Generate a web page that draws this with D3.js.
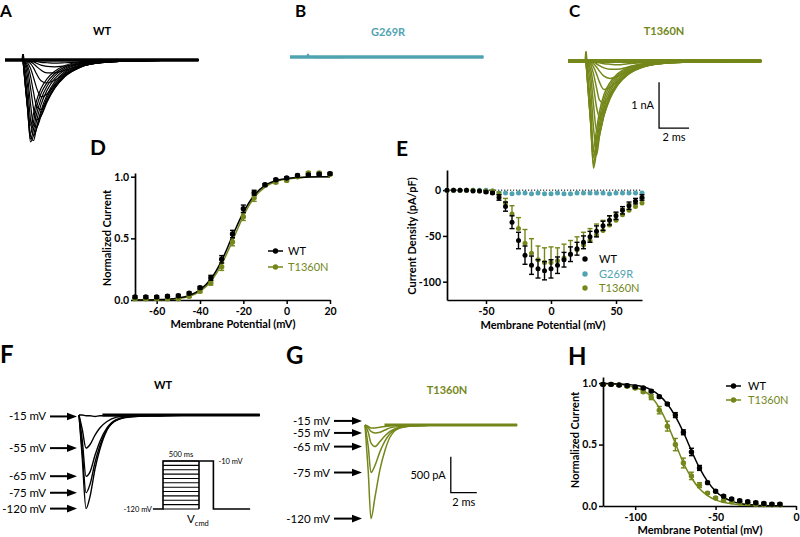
<!DOCTYPE html>
<html><head><meta charset="utf-8">
<script src="https://cdn.jsdelivr.net/npm/d3@7"></script>
<style>
body{margin:0;background:#fff;}
svg{display:block;}
</style></head><body>
<script>
// ================= DATA =================
const COL_WT = '#000000', COL_T = '#74871a', COL_G = '#50a3b0';
const FONT = "Lato, 'Open Sans', 'DejaVu Sans', sans-serif";

// ---- Panels A-C : current traces (nA) sampled on a time grid (ms after step) ----
const tGridAC = [0, 0.3, 0.5, 0.7, 0.9, 1.2, 1.6, 2.1, 2.8, 3.8, 5.2, 7.5, 11.7];
const tracesA_WT = [
 [0,0,-0.01,-0.02,-0.03,-0.05,-0.06,-0.07,-0.06,-0.04,-0.02,-0.01,0],
 [0,-0.01,-0.02,-0.04,-0.07,-0.11,-0.14,-0.15,-0.13,-0.08,-0.04,-0.01,0],
 [0,-0.02,-0.04,-0.08,-0.14,-0.22,-0.28,-0.28,-0.22,-0.12,-0.05,-0.02,0],
 [0,-0.03,-0.08,-0.17,-0.3,-0.45,-0.5,-0.44,-0.3,-0.15,-0.06,-0.02,0],
 [0,-0.06,-0.18,-0.38,-0.6,-0.8,-0.74,-0.55,-0.34,-0.16,-0.06,-0.02,0],
 [0,-0.12,-0.35,-0.7,-1.0,-1.08,-0.88,-0.62,-0.36,-0.16,-0.06,-0.02,0],
 [0,-0.2,-0.6,-1.05,-1.3,-1.22,-0.92,-0.62,-0.34,-0.15,-0.06,-0.02,0],
 [0,-0.35,-0.95,-1.42,-1.46,-1.22,-0.88,-0.58,-0.31,-0.13,-0.05,-0.02,0],
 [0,-0.55,-1.3,-1.65,-1.5,-1.16,-0.82,-0.53,-0.28,-0.12,-0.05,-0.02,0],
 [0,-0.8,-1.65,-1.75,-1.47,-1.1,-0.76,-0.48,-0.25,-0.11,-0.04,-0.01,0],
 [0,-1.0,-1.78,-1.64,-1.33,-0.97,-0.66,-0.41,-0.21,-0.09,-0.04,-0.01,0],
 [0,-1.05,-1.72,-1.5,-1.18,-0.85,-0.57,-0.35,-0.18,-0.08,-0.03,-0.01,0],
 [0,-1.05,-1.6,-1.34,-1.03,-0.73,-0.49,-0.3,-0.15,-0.06,-0.03,-0.01,0],
 [0,-1.0,-1.42,-1.17,-0.89,-0.62,-0.41,-0.25,-0.12,-0.05,-0.02,0,0]
];
const tracesC_T = [
 [0,0,-0.01,-0.02,-0.04,-0.06,-0.07,-0.08,-0.06,-0.04,-0.02,-0.01,0],
 [0,-0.01,-0.03,-0.06,-0.1,-0.15,-0.18,-0.18,-0.13,-0.07,-0.03,-0.01,0],
 [0,-0.02,-0.06,-0.13,-0.22,-0.33,-0.38,-0.33,-0.23,-0.12,-0.05,-0.02,0],
 [0,-0.04,-0.13,-0.28,-0.46,-0.62,-0.58,-0.44,-0.27,-0.13,-0.05,-0.02,0],
 [0,-0.08,-0.28,-0.58,-0.85,-0.92,-0.72,-0.5,-0.29,-0.13,-0.05,-0.02,0],
 [0,-0.16,-0.55,-1.0,-1.22,-1.08,-0.79,-0.52,-0.29,-0.12,-0.05,-0.02,0],
 [0,-0.3,-0.95,-1.5,-1.52,-1.18,-0.82,-0.53,-0.28,-0.12,-0.05,-0.02,0],
 [0,-0.55,-1.45,-1.9,-1.62,-1.18,-0.8,-0.5,-0.26,-0.11,-0.04,-0.01,0],
 [0,-0.9,-1.95,-2.05,-1.62,-1.13,-0.75,-0.46,-0.24,-0.1,-0.04,-0.01,0],
 [0,-1.2,-2.33,-1.97,-1.5,-1.03,-0.67,-0.41,-0.21,-0.09,-0.03,-0.01,0],
 [0,-1.3,-2.25,-1.82,-1.37,-0.93,-0.6,-0.36,-0.18,-0.08,-0.03,-0.01,0],
 [0,-1.3,-2.1,-1.67,-1.24,-0.83,-0.53,-0.32,-0.16,-0.07,-0.03,-0.01,0],
 [0,-1.25,-1.9,-1.5,-1.1,-0.73,-0.47,-0.28,-0.14,-0.06,-0.02,0,0]
];
const traceB_G = [0,0,-0.01,-0.01,-0.01,-0.01,-0.01,-0.01,0,0,0,0,0];
const artifactAC = [[-0.05,0],[0,0.13],[0.05,0]];

// ---- Panel D : activation ----
const actV = [-70,-65,-60,-55,-50,-45,-40,-35,-30,-25,-20,-15,-10,-5,0,5,10,15,20];
const actWT = [0.025,0.025,0.025,0.03,0.035,0.055,0.10,0.18,0.33,0.535,0.74,0.87,0.935,0.975,0.99,1.01,1.015,1.02,1.025];
const actWTerr = [0.01,0.01,0.01,0.01,0.01,0.01,0.01,0.02,0.03,0.03,0.03,0.02,0.01,0.01,0.01,0.01,0.01,0.01,0.01];
const actT = [0.01,0.01,0.01,0.01,0.01,0.03,0.07,0.14,0.27,0.47,0.675,0.83,0.93,0.955,0.97,1.0,1.03,1.03,1.02];
const actTerr = [0.01,0.01,0.01,0.01,0.01,0.01,0.01,0.02,0.03,0.03,0.03,0.03,0.01,0.01,0.01,0.01,0.01,0.01,0.01];
const actFitWT = [0.001,0.001,0.003,0.007,0.017,0.037,0.082,0.17,0.32,0.52,0.71,0.85,0.93,0.967,0.986,0.994,0.997,0.999,1.0];
const actFitT  = [0.001,0.001,0.002,0.005,0.012,0.03,0.07,0.15,0.29,0.48,0.68,0.83,0.915,0.96,0.98,0.99,1.0,1.0,1.0];

// ---- Panel E : current density ----
const idV = [-80,-75,-70,-65,-60,-55,-50,-45,-40,-35,-30,-25,-20,-15,-10,-5,0,5,10,15,20,25,30,35,40,45,50,55,60,65,70];
const idWT = [0,0,0,0,-1,-1,-2,-3,-8,-18,-35,-55,-71,-82,-86,-88,-86,-82,-76,-70,-64,-57,-51,-45,-39,-33,-28,-22,-17,-12,-8];
const idWTerr = [0,0,0,0,0,0,1,1,3,5,7,9,10,10,10,10,10,9,8,8,7,7,6,6,5,5,4,4,4,3,3];
const idT = [0,0,0,0,0,-1,-1,-1,-5,-14,-26,-42,-58,-69,-76,-79,-79,-77,-74,-70,-65,-60,-55,-49,-44,-38,-33,-27,-22,-18,-14];
const idTerr = [0,0,0,0,0,0,0,1,3,5,9,12,15,16,15,16,17,14,15,15,14,14,13,12,11,10,8,7,7,6,5];
const idG = [0,0,0,0,0,0,0,-1,-3,-3,-4,-3,-3,-4,-3,-4,-4,-3,-4,-4,-3,-3,-3,-3,-3,-4,-3,-3,-3,-3,-3];

// ---- Panels F,G : inactivation traces (nA) ----
const prepulseLabels = ['-15 mV','-55 mV','-65 mV','-75 mV','-120 mV'];
const tGridF = [0, 0.25, 0.54, 0.85, 1.23, 1.6, 2.15, 2.9, 3.9, 6, 9, 13.9];
const tracesF_WT = [
 [0,0,-0.01,-0.01,-0.02,-0.01,-0.01,-0.01,0,0,0,0],
 [0,-0.2,-0.46,-0.41,-0.28,-0.18,-0.09,-0.03,-0.01,0,0,0],
 [0,-0.35,-0.85,-0.79,-0.56,-0.37,-0.18,-0.06,-0.02,-0.01,0,0],
 [0,-0.5,-1.08,-0.96,-0.66,-0.43,-0.2,-0.07,-0.02,-0.01,0,0],
 [0,-0.6,-1.3,-1.13,-0.75,-0.48,-0.21,-0.07,-0.03,-0.01,0,0]
];
const tGridG = [0, 0.25, 0.46, 0.77, 1.15, 1.54, 1.92, 2.7, 3.8, 6, 9, 11.7];
const tracesG_T = [
 [0,-0.02,-0.04,-0.04,-0.03,-0.02,-0.01,0,0,0,0,0],
 [0,-0.04,-0.09,-0.11,-0.1,-0.07,-0.04,-0.02,-0.01,0,0,0],
 [0,-0.1,-0.25,-0.3,-0.23,-0.15,-0.09,-0.03,-0.01,0,0,0],
 [0,-0.3,-0.66,-0.56,-0.37,-0.22,-0.12,-0.04,-0.01,0,0,0],
 [0,-0.65,-1.3,-1.0,-0.62,-0.35,-0.17,-0.04,-0.01,0,0,0]
];
// voltage protocol (inset)
const protoLevels = [-120,-110,-100,-90,-80,-70,-60,-50,-40,-30,-20,-10];
const protoTimes = [-140, 0, 500, 700, 1210]; // hold, prepulse start, test start, test end, end

// ---- Panel H : steady-state inactivation ----
const inaV = [-120,-115,-110,-105,-100,-95,-90,-85,-80,-75,-70,-65,-60,-55,-50,-45,-40,-35,-30,-25,-20,-15,-10];
const inaWT = [0.99,0.99,0.985,0.98,0.97,0.96,0.935,0.89,0.83,0.74,0.60,0.44,0.31,0.19,0.12,0.08,0.057,0.043,0.035,0.027,0.02,0.015,0.015];
const inaWTerr = [0.01,0.01,0.01,0.01,0.01,0.01,0.01,0.01,0.01,0.02,0.02,0.03,0.02,0.01,0.01,0.01,0.01,0.01,0.01,0.01,0.01,0.01,0.01];
const inaT = [0.99,0.99,0.985,0.975,0.96,0.93,0.886,0.78,0.65,0.50,0.35,0.245,0.17,0.105,0.065,0.045,0.035,0.025,0.02,0.015,0.012,0.01,0.01];
const inaTerr = [0.01,0.01,0.01,0.01,0.01,0.01,0.02,0.03,0.04,0.05,0.04,0.03,0.02,0.01,0.01,0.01,0.01,0.01,0.01,0.01,0.01,0.01,0.01];
const inaFitWT = [0.997,0.996,0.994,0.99,0.983,0.97,0.945,0.9,0.83,0.73,0.6,0.45,0.31,0.2,0.12,0.07,0.04,0.022,0.012,0.007,0.004,0.002,0.001];
const inaFitT = [0.995,0.993,0.99,0.98,0.965,0.94,0.89,0.8,0.67,0.51,0.35,0.23,0.14,0.085,0.05,0.03,0.018,0.01,0.006,0.003,0.002,0.001,0];

// ================= DRAWING =================
const svg = d3.select('body').append('svg').attr('width',800).attr('height',537)
  .style('font-family', FONT);

function txt(x, y, s, o={}) {
  const t = svg.append('text').attr('x',x).attr('y',y).text(s)
    .attr('font-size', (o.size||10)+'px').attr('font-weight', o.weight||'normal')
    .attr('fill', o.fill||'#000').attr('text-anchor', o.anchor||'start');
  if (o.rotate) t.attr('transform',`rotate(-90,${x},${y})`);
  return t;
}

// panel letters
[['A',0,17,17],['B',295,17,17],['C',569,17,17],['D',90,155,21],['E',396,156,21],
 ['F',0,363,24],['G',286,364,24],['H',568,365,24]].forEach(([l,x,y,s]) => txt(x,y,l,{size:s,weight:'bold'}));

// ---- trace helper ----
function drawTraceFamily(xS, yS, tGrid, rows, color, sw, baseRange, baseW) {
  const g = svg.append('g');
  const line = d3.line().x((d,i)=>xS(tGrid[i])).y(d=>yS(d)).curve(d3.curveMonotoneX);
  g.append('path').attr('d', d3.line()(baseRange.map(t=>[xS(t), yS(0)])))
    .attr('stroke', color).attr('stroke-width', baseW).attr('fill','none');
  rows.forEach(r => g.append('path').attr('d', line(r)).attr('fill','none')
    .attr('stroke', color).attr('stroke-width', sw).attr('stroke-linejoin','round'));
  return g;
}
function drawArtifact(xS, yS, color, k) {
  svg.append('path').attr('d', d3.line().x(d=>xS(d[0])).y(d=>yS(d[1]*k))(artifactAC))
    .attr('stroke',color).attr('stroke-width',1.8).attr('fill','none');
}

// Panel A
const xA = d3.scaleLinear([0,2],[23,53]), yA = d3.scaleLinear([0,-1],[60,106]);
drawTraceFamily(xA, yA, tGridAC, tracesA_WT, COL_WT, 1.2, [-1.2, 11.7], 3.4);
drawArtifact(xA, yA, COL_WT, 1);
txt(102, 35, 'WT', {size:11, weight:'bold', anchor:'middle'});

// Panel B
const xB = d3.scaleLinear([0,2],[308,338]), yB = d3.scaleLinear([0,-1],[57,103]);
drawTraceFamily(xB, yB, tGridAC, [traceB_G], COL_G, 1.5, [-1.2, 11.7], 3.4);
drawArtifact(xB, yB, COL_G, 0.5);
txt(388, 36, 'G269R', {size:11, weight:'bold', anchor:'middle', fill:COL_G});

// Panel C
const xC = d3.scaleLinear([0,2],[586,616]), yC = d3.scaleLinear([0,-1],[61,107]);
drawTraceFamily(xC, yC, tGridAC, tracesC_T, COL_T, 1.5, [-1.2, 11.7], 3.8);
drawArtifact(xC, yC, COL_T, 1.6);
txt(664, 35, 'T1360N', {size:11, weight:'bold', anchor:'middle', fill:COL_T});
// scale bar C (1 nA, 2 ms)
svg.append('path').attr('d', d3.line()([[xC(4.87),yC(-0.46)],[xC(4.87),yC(-1.46)],[xC(6.87),yC(-1.46)]]))
  .attr('stroke','#000').attr('stroke-width',1.3).attr('fill','none');
txt(xC(4.87)-5, (yC(-0.46)+yC(-1.46))/2+4, '1 nA', {size:11, anchor:'end'});
txt(xC(5.87), yC(-1.46)+13, '2 ms', {size:11, anchor:'middle'});

// ---- axis helpers ----
function styleAxis(g) {
  g.selectAll('path.domain').attr('stroke','#000').attr('stroke-width',1.7);
  g.selectAll('.tick line').attr('stroke','#000').attr('stroke-width',1.5);
  g.selectAll('.tick text').attr('font-size','10.5px').attr('font-weight','bold')
    .attr('font-family',FONT).attr('fill','#000');
}
const fmtInt = d => String(d);
const fmt1 = d => d.toFixed(1);
function errBars(xS, yS, xs, ys, es, color, up, down, cap) {
  const g = svg.append('g').attr('stroke', color).attr('stroke-width',1.4);
  xs.forEach((v,i) => {
    const e = es[i]; if (!e) return;
    const x = xS(v), yT = yS(ys[i] + (up?e:0)), yB = yS(ys[i] - (down?e:0));
    g.append('line').attr('x1',x).attr('x2',x).attr('y1',yT).attr('y2',yB);
    if (up) g.append('line').attr('x1',x-cap).attr('x2',x+cap).attr('y1',yT).attr('y2',yT);
    if (down) g.append('line').attr('x1',x-cap).attr('x2',x+cap).attr('y1',yB).attr('y2',yB);
  });
}
function dots(xS, yS, xs, ys, color, r) {
  svg.append('g').selectAll('circle').data(xs).join('circle')
    .attr('cx', d=>xS(d)).attr('cy', (d,i)=>yS(ys[i])).attr('r', r).attr('fill', color);
}
function fitLine(xS, yS, xs, ys, color) {
  svg.append('path').attr('d', d3.line().x((d,i)=>xS(xs[i])).y(d=>yS(d)).curve(d3.curveMonotoneX)(ys))
    .attr('fill','none').attr('stroke',color).attr('stroke-width',1.5);
}

// ---- Panel D ----
const xD = d3.scaleLinear([-70,20],[135,330]);
const yD = d3.scaleLinear([0,1.03],[300,173]);
styleAxis(svg.append('g').attr('transform','translate(0,300)')
  .call(d3.axisBottom(xD).tickValues([-60,-40,-20,0,20]).tickFormat(fmtInt).tickSize(4).tickSizeOuter(0).tickPadding(4)));
styleAxis(svg.append('g').attr('transform','translate(135,0)')
  .call(d3.axisLeft(yD).tickValues([0,0.5,1]).tickFormat(fmt1).tickSize(4).tickSizeOuter(0).tickPadding(2)));
fitLine(xD, yD, actV, actFitT, COL_T);
fitLine(xD, yD, actV, actFitWT, COL_WT);
errBars(xD, yD, actV, actT, actTerr, COL_T, true, true, 2.5);
dots(xD, yD, actV, actT, COL_T, 2.7);
errBars(xD, yD, actV, actWT, actWTerr, COL_WT, true, true, 2.5);
dots(xD, yD, actV, actWT, COL_WT, 2.7);
txt(233, 328, 'Membrane Potential (mV)', {size:11, weight:'bold', anchor:'middle'});
txt(111, 238, 'Normalized Current', {size:11, weight:'bold', anchor:'middle', rotate:true});
[['WT',COL_WT,251],['T1360N',COL_T,267]].forEach(([n,c,y]) => {
  svg.append('line').attr('x1',268).attr('x2',283).attr('y1',y).attr('y2',y).attr('stroke',c).attr('stroke-width',1.5);
  svg.append('circle').attr('cx',275.5).attr('cy',y).attr('r',2.7).attr('fill',c);
  txt(288, y+4, n, {size:11, fill:c});
});

// ---- Panel E ----
const xE = d3.scaleLinear([-80,70],[447,642]);
const yE = d3.scaleLinear([-120,22],[300,170]);
styleAxis(svg.append('g').attr('transform','translate(0,300)')
  .call(d3.axisBottom(xE).tickValues([-50,0,50]).tickFormat(fmtInt).tickSize(4).tickSizeOuter(0).tickPadding(4)));
styleAxis(svg.append('g').attr('transform','translate(447,0)')
  .call(d3.axisLeft(yE).tickValues([-100,-50,0]).tickFormat(fmtInt).tickSize(4).tickSizeOuter(0).tickPadding(2)));
svg.append('line').attr('x1',xE(-80)).attr('x2',xE(70)).attr('y1',yE(0)).attr('y2',yE(0))
  .attr('stroke','#000').attr('stroke-width',1).attr('stroke-dasharray','1.2,1.8');
dots(xE, yE, idV, idG, COL_G, 2.5);
errBars(xE, yE, idV, idT, idTerr, COL_T, true, false, 2.5);
dots(xE, yE, idV, idT, COL_T, 2.5);
errBars(xE, yE, idV, idWT, idWTerr, COL_WT, true, true, 2.5);
dots(xE, yE, idV, idWT, COL_WT, 2.5);
txt(543, 329, 'Membrane Potential (mV)', {size:11, weight:'bold', anchor:'middle'});
txt(416, 236, 'Current Density (pA/pF)', {size:11, weight:'bold', anchor:'middle', rotate:true});
[['WT',COL_WT,259],['G269R',COL_G,274],['T1360N',COL_T,288]].forEach(([n,c,y]) => {
  svg.append('circle').attr('cx',585).attr('cy',y).attr('r',2.7).attr('fill',c);
  txt(599, y+4, n, {size:11, fill:c});
});

// ---- arrows for F/G ----
function arrows(yS, rows, tipX, textX) {
  const peaks = rows.map(r => yS(d3.min(r)));
  const ys = peaks.slice();
  for (let i = ys.length-2; i >= 0; i--) ys[i] = Math.min(ys[i], ys[i+1]-12);
  ys.forEach((y,i) => {
    svg.append('line').attr('x1',textX+4).attr('x2',tipX-8).attr('y1',y).attr('y2',y)
      .attr('stroke','#000').attr('stroke-width',2);
    svg.append('path').attr('d',`M${tipX},${y}L${tipX-10},${y-3.8}L${tipX-10},${y+3.8}Z`).attr('fill','#000');
    txt(textX, y+4, prepulseLabels[i], {size:11.5, anchor:'end'});
  });
}

// ---- Panel F ----
const xF = d3.scaleLinear([0,2],[79,105]), yF = d3.scaleLinear([0,-1],[415,487]);
drawTraceFamily(xF, yF, tGridF, tracesF_WT, COL_WT, 1.4, [1.8, 13.9], 2.8);
txt(163, 389, 'WT', {size:11, weight:'bold', anchor:'middle'});
arrows(yF, tracesF_WT, 77, 46);
// inset voltage protocol
const xP = d3.scaleLinear([0,500],[163,199]), yP = d3.scaleLinear([-120,-10],[509,461]);
const pg = svg.append('g').attr('stroke','#000').attr('fill','none');
protoLevels.forEach(v => pg.append('line').attr('x1',xP(protoTimes[1])).attr('x2',xP(protoTimes[2]))
  .attr('y1',yP(v)).attr('y2',yP(v)).attr('stroke-width',1.1));
pg.append('path').attr('stroke-width',1.6).attr('d', d3.line()([
  [xP(protoTimes[0]),yP(-120)],[xP(protoTimes[1]),yP(-120)],[xP(protoTimes[1]),yP(-10)],[xP(protoTimes[2]),yP(-10)],
  [xP(protoTimes[3]),yP(-10)],[xP(protoTimes[3]),yP(-120)],[xP(protoTimes[4]),yP(-120)]]));
pg.append('line').attr('stroke-width',1.6).attr('x1',xP(protoTimes[2])).attr('x2',xP(protoTimes[2])).attr('y1',yP(-10)).attr('y2',yP(-120));
txt(xP(250), yP(-10)-4, '500 ms', {size:7.5, anchor:'middle'});
txt(xP(700)+5, yP(-10)+3, '-10 mV', {size:7.5});
txt(xP(-140)-1, yP(-120)+3, '-120 mV', {size:7.5, anchor:'end'});
const vt = txt(187, 523, 'V', {size:11.5});
vt.append('tspan').attr('font-size','7.5px').attr('dy',3).text('cmd');

// ---- Panel G ----
const xG = d3.scaleLinear([0,2],[365,391]), yG = d3.scaleLinear([0,-1],[425,497]);
drawTraceFamily(xG, yG, tGridG, tracesG_T, COL_T, 1.5, [1.5, 11.7], 3);
txt(447, 394, 'T1360N', {size:11, weight:'bold', anchor:'middle', fill:COL_T});
arrows(yG, tracesG_T, 362, 330);
svg.append('path').attr('d', d3.line()([[xG(6.6),yG(-0.44)],[xG(6.6),yG(-0.94)],[xG(8.6),yG(-0.94)]]))
  .attr('stroke','#000').attr('stroke-width',1.3).attr('fill','none');
txt(xG(6.6)-5, (yG(-0.44)+yG(-0.94))/2+4, '500 pA', {size:11, anchor:'end'});
txt(xG(7.6), yG(-0.94)+13, '2 ms', {size:11, anchor:'middle'});

// ---- Panel H ----
const xH = d3.scaleLinear([-120,0],[603,796]);
const yH = d3.scaleLinear([0,1.05],[506,377]);
styleAxis(svg.append('g').attr('transform','translate(0,506)')
  .call(d3.axisBottom(xH).tickValues([-100,-50,0]).tickFormat(fmtInt).tickSize(4).tickSizeOuter(0).tickPadding(4)));
styleAxis(svg.append('g').attr('transform','translate(603,0)')
  .call(d3.axisLeft(yH).tickValues([0,0.5,1]).tickFormat(fmt1).tickSize(4).tickSizeOuter(0).tickPadding(2)));
fitLine(xH, yH, inaV, inaFitT, COL_T);
fitLine(xH, yH, inaV, inaFitWT, COL_WT);
errBars(xH, yH, inaV, inaT, inaTerr, COL_T, true, true, 2.5);
dots(xH, yH, inaV, inaT, COL_T, 2.7);
errBars(xH, yH, inaV, inaWT, inaWTerr, COL_WT, true, true, 2.5);
dots(xH, yH, inaV, inaWT, COL_WT, 2.7);
txt(700, 534, 'Membrane Potential (mV)', {size:11, weight:'bold', anchor:'middle'});
txt(579, 440, 'Normalized Current', {size:11, weight:'bold', anchor:'middle', rotate:true});
[['WT',COL_WT,386],['T1360N',COL_T,400]].forEach(([n,c,y]) => {
  svg.append('line').attr('x1',726).attr('x2',741).attr('y1',y).attr('y2',y).attr('stroke',c).attr('stroke-width',1.5);
  svg.append('circle').attr('cx',733.5).attr('cy',y).attr('r',2.7).attr('fill',c);
  txt(748, y+4, n, {size:11, fill:c});
});
</script>
</body></html>
